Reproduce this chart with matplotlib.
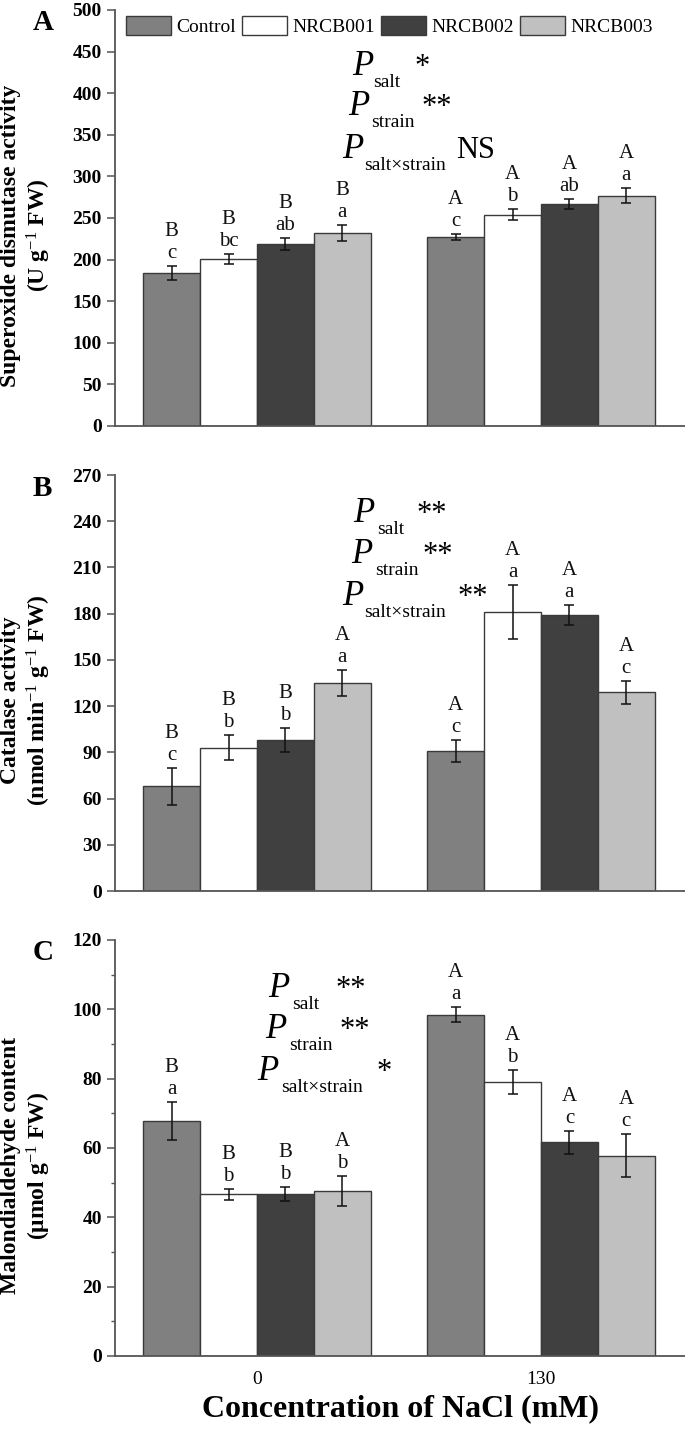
import matplotlib
matplotlib.use('Agg')
import matplotlib.pyplot as plt
import numpy as np
from matplotlib.ticker import MultipleLocator
from matplotlib.patches import Patch

plt.rcParams['font.family'] = ['Liberation Serif', 'DejaVu Serif']
plt.rcParams['mathtext.fontset'] = 'custom'
plt.rcParams['mathtext.rm'] = 'Liberation Serif'
plt.rcParams['mathtext.it'] = 'Liberation Serif:italic'
plt.rcParams['mathtext.bf'] = 'Liberation Serif:bold'

# ---------------- data ----------------
salt_levels = ['0', '130']
strains = ['Control', 'NRCB001', 'NRCB002', 'NRCB003']
strain_colors = ['#808080', '#ffffff', '#404040', '#c0c0c0']

# Panel A: superoxide dismutase activity (rows: NaCl 0, 130; cols: strains)
sod_mean = [[184, 201, 219, 232], [227, 254, 267, 277]]
sod_err = [[8, 6, 7, 10], [4, 7, 6, 9]]
sod_upper = [['B', 'B', 'B', 'B'], ['A', 'A', 'A', 'A']]
sod_lower = [['c', 'bc', 'ab', 'a'], ['c', 'b', 'ab', 'a']]
sod_sig = ['*', '**', 'NS']

# Panel B: catalase activity
cat_mean = [[68, 93, 98, 135], [91, 181, 179, 129]]
cat_err = [[12, 8, 8, 8.5], [7, 17.5, 6.5, 7.5]]
cat_upper = [['B', 'B', 'B', 'A'], ['A', 'A', 'A', 'A']]
cat_lower = [['c', 'b', 'b', 'a'], ['c', 'a', 'a', 'c']]
cat_sig = ['**', '**', '**']

# Panel C: malondialdehyde content
mda_mean = [[67.8, 46.6, 46.8, 47.6], [98.5, 79, 61.6, 57.8]]
mda_err = [[5.6, 1.6, 2.0, 4.4], [2.1, 3.4, 3.3, 6.1]]
mda_upper = [['B', 'B', 'B', 'A'], ['A', 'A', 'A', 'A']]
mda_lower = [['a', 'b', 'b', 'b'], ['a', 'b', 'c', 'c']]
mda_sig = ['**', '**', '*']

panel_letters = ['A', 'B', 'C']
ylabels = ['Superoxide dismutase activity\n(U g$^{-1}$ FW)',
           'Catalase activity\n(nmol min$^{-1}$ g$^{-1}$ FW)',
           'Malondialdehyde content\n(\u03bcmol g$^{-1}$ FW)']
ymax = [500, 270, 120]
ystep = [50, 30, 20]
xlabel = 'Concentration of NaCl (mM)'
p_subs = ['salt', 'strain', 'salt\u00d7strain']

# ---------------- layout ----------------
W, H = 685, 1430
fig = plt.figure(figsize=(W / 100, H / 100), dpi=100)


def axes_px(left, top, width, height):
    return fig.add_axes([left / W, 1 - (top + height) / H, width / W, height / H])


panel_tops = [10, 475, 940]
panel_h = 416
ax_left, ax_w = 115, 570
bar_w = 0.2
offsets = (np.arange(4) - 1.5) * bar_w
group_x = np.arange(len(salt_levels))

# annotation pixel positions: (P x, baseline y) per line, sub x, sig x
p_layout = [
    dict(P=[(352, 75), (348, 115), (342, 158)], sub=[373, 371, 364], sig=[415, 422, 456]),
    dict(P=[(353, 522), (351, 563), (342, 605)], sub=[377, 375, 364], sig=[417, 423, 458]),
    dict(P=[(268, 997), (265, 1038), (257, 1080)], sub=[292, 289, 281], sig=[336, 340, 377]),
]

datasets = [
    (sod_mean, sod_err, sod_upper, sod_lower, sod_sig),
    (cat_mean, cat_err, cat_upper, cat_lower, cat_sig),
    (mda_mean, mda_err, mda_upper, mda_lower, mda_sig),
]

spine_col = '#555555'
axes = []
for i, (mean, err, upper, lower, sig) in enumerate(datasets):
    ax = axes_px(ax_left, panel_tops[i], ax_w, panel_h)
    axes.append(ax)
    mean = np.array(mean, dtype=float)
    err = np.array(err, dtype=float)
    for s in range(len(strains)):
        xs = group_x + offsets[s]
        ax.bar(xs, mean[:, s], width=bar_w, color=strain_colors[s],
               edgecolor='#3a3a3a', linewidth=1.0, zorder=2,
               label=strains[s])
        ax.errorbar(xs, mean[:, s], yerr=err[:, s], fmt='none',
                    ecolor='#111111', elinewidth=1.1, capsize=3.3,
                    capthick=1.1, zorder=3)
        for g in range(len(salt_levels)):
            top = mean[g, s] + err[g, s]
            ax.annotate(lower[g][s], xy=(xs[g], top), xytext=(0, 8),
                        textcoords='offset pixels', ha='center', va='baseline',
                        fontsize=15, color='#111111')
            ax.annotate(upper[g][s], xy=(xs[g], top), xytext=(0, 30),
                        textcoords='offset pixels', ha='center', va='baseline',
                        fontsize=15, color='#111111')

    ax.set_xlim(-0.5, 1.507)
    ax.set_ylim(0, ymax[i])
    ax.yaxis.set_major_locator(MultipleLocator(ystep[i]))
    for sp in ['top', 'right']:
        ax.spines[sp].set_visible(False)
    for sp in ['left', 'bottom']:
        ax.spines[sp].set_color(spine_col)
        ax.spines[sp].set_linewidth(1.3)
    ax.tick_params(axis='y', direction='out', length=5.5, width=1.1,
                   color=spine_col, pad=4, labelsize=14)
    for lab in ax.get_yticklabels():
        lab.set_fontweight('bold')
    ax.set_xticks(group_x)
    ax.tick_params(axis='x', length=0, pad=11)
    if i < 2:
        ax.set_xticklabels([])
    else:
        ax.set_xticklabels(salt_levels, fontsize=14)
        ax.yaxis.set_minor_locator(MultipleLocator(ystep[i] / 2))
        ax.tick_params(axis='y', which='minor', direction='out', length=3,
                       width=1.0, color=spine_col)
        ax.set_xlabel(xlabel, fontsize=23, fontweight='bold', labelpad=4)

    ax.set_ylabel(ylabels[i], fontsize=17, fontweight='bold', linespacing=1.2)
    ax.yaxis.set_label_coords(-0.108, 0.458)

    # panel letter
    fig.text(33 / W, 1 - (panel_tops[i] + 13) / H, panel_letters[i],
             fontsize=21, fontweight='bold', ha='left', va='center')

    # two-way ANOVA significance annotations
    lay = p_layout[i]
    for k in range(3):
        px, py = lay['P'][k]
        fy = 1 - py / H
        fig.text(px / W, fy, 'P', fontsize=25, fontstyle='italic',
                 ha='left', va='baseline')
        fig.text(lay['sub'][k] / W, 1 - (py + 12) / H, p_subs[k], fontsize=14,
                 ha='left', va='baseline')
        fig.text(lay['sig'][k] / W, fy, sig[k], fontsize=22,
                 ha='left', va='baseline')

# legend on panel A
handles = [Patch(facecolor=c, edgecolor='#3a3a3a', linewidth=1.0)
           for c in strain_colors]
fig.legend(handles, strains, loc='center left',
           bbox_to_anchor=(126 / W, 1 - 26 / H), bbox_transform=fig.transFigure,
           ncol=4, frameon=False, fontsize=14, handlelength=2.3,
           handleheight=1.15, handletextpad=0.3, columnspacing=0.3,
           borderpad=0, borderaxespad=0)

fig.savefig('out.png', dpi=100)
